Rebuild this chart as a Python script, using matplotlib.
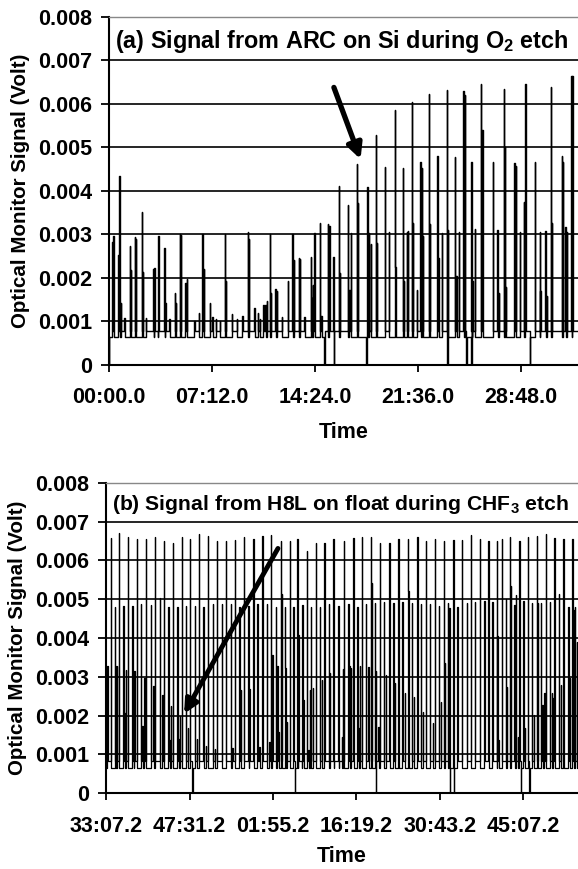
import matplotlib.pyplot as plt
import numpy as np

plt.rcParams['font.family'] = ['Liberation Sans', 'DejaVu Sans']
plt.rcParams['font.weight'] = 'bold'
plt.rcParams['mathtext.fontset'] = 'custom'
plt.rcParams['mathtext.rm'] = 'Liberation Sans:bold'
plt.rcParams['mathtext.it'] = 'Liberation Sans:bold'
plt.rcParams['mathtext.bf'] = 'Liberation Sans:bold'
plt.rcParams['mathtext.default'] = 'regular'

# ---- panel (a): ARC on Si, O2 etch (time in minutes from start, signal in volts)
a_t = [0.23, 0.30, 0.65, 0.72, 0.82, 1.07, 1.47, 1.54, 1.82, 1.89,
       2.29, 2.36, 2.59, 3.10, 3.17, 3.40, 3.45, 3.87, 3.94, 4.21,
       4.61, 4.68, 4.96, 5.03, 5.33, 5.43, 5.96, 6.29, 6.52, 6.62,
       7.06, 7.22, 7.48, 7.76, 8.11, 8.18, 8.58, 8.95, 9.32, 9.70,
       9.79, 10.16, 10.39, 10.56, 10.79, 10.93, 11.02, 11.25, 11.32, 11.62,
       11.72, 12.07, 12.51, 12.81, 12.91, 13.26, 13.33, 13.65, 14.10, 14.19,
       14.24, 14.35, 14.75, 14.84, 15.31, 15.40, 15.68, 16.06, 16.13, 16.71,
       16.80, 16.90, 17.31, 17.38, 18.06, 18.17, 18.29, 18.64, 18.71, 19.29,
       19.55, 19.97, 20.01, 20.53, 20.62, 20.81, 20.90, 21.16, 21.23, 21.51,
       21.76, 21.86, 21.95, 22.35, 22.44, 22.95, 23.02, 23.26, 23.63, 23.70,
       24.19, 24.28, 24.47, 24.79, 24.88, 25.35, 25.42, 25.58, 26.00, 26.12,
       26.84, 27.17, 27.24, 27.59, 27.66, 27.73, 28.33, 28.43, 28.71, 29.01,
       29.10, 29.76, 30.11, 30.15, 30.50, 30.62, 30.90, 30.97, 31.67, 31.74,
       31.92, 32.02, 32.34, 32.41]
a_v = [0.00283, 0.00297, 0.00253, 0.00434, 0.00142, 0.00108, 0.00274, 0.00218, 0.00295, 0.00290,
       0.00351, 0.00214, 0.00108, 0.00220, 0.00222, 0.00163, 0.00297, 0.00270, 0.00143, 0.00105,
       0.00165, 0.00143, 0.00301, 0.00299, 0.00188, 0.00198, 0.00100, 0.00119, 0.00301, 0.00220,
       0.00143, 0.00111, 0.00105, 0.00100, 0.00301, 0.00193, 0.00117, 0.00105, 0.00113, 0.00305,
       0.00290, 0.00130, 0.00119, 0.00105, 0.00138, 0.00138, 0.00146, 0.00301, 0.00165, 0.00174,
       0.00170, 0.00110, 0.00192, 0.00301, 0.00241, 0.00247, 0.00244, 0.00111, 0.00249, 0.00153,
       0.00184, 0.00304, 0.00326, 0.00113, 0.00323, 0.00320, 0.00249, 0.00411, 0.00211, 0.00368,
       0.00172, 0.00303, 0.00461, 0.00372, 0.00410, 0.00303, 0.00277, 0.00529, 0.00281, 0.00454,
       0.00306, 0.00586, 0.00226, 0.00452, 0.00192, 0.00306, 0.00308, 0.00605, 0.00327, 0.00172,
       0.00467, 0.00452, 0.00297, 0.00624, 0.00323, 0.00481, 0.00247, 0.00303, 0.00632, 0.00310,
       0.00479, 0.00205, 0.00306, 0.00630, 0.00621, 0.00466, 0.00192, 0.00312, 0.00646, 0.00540,
       0.00466, 0.00310, 0.00165, 0.00634, 0.00500, 0.00180, 0.00464, 0.00457, 0.00306, 0.00375,
       0.00647, 0.00466, 0.00306, 0.00170, 0.00308, 0.00159, 0.00638, 0.00326, 0.00481, 0.00466,
       0.00318, 0.00306, 0.00665, 0.00665]
a_dip_t = [0.0, 15.05, 15.73, 18.00, 23.66, 25.00, 25.33, 29.43]
a_base = [0.00064, 0.00078]

# ---- panel (b): H8L on float, CHF3 etch
b_tall_t = [0.81, 2.24, 3.74, 5.29, 6.90, 8.45, 10.00, 11.50, 13.06, 14.49, 16.04, 17.54, 19.09,
            20.70, 22.25, 23.80, 25.40, 26.96, 28.46, 30.13, 31.73, 32.99, 34.61, 36.16, 37.65, 39.20, 41.00,
            42.65, 44.10, 45.65, 47.25, 48.86, 50.41, 52.03, 53.69, 55.19, 56.74, 58.29, 59.90, 61.36,
            62.95, 64.50, 65.93, 67.38, 68.24, 69.67, 71.28, 72.73, 74.28, 75.88, 77.31, 78.87, 80.42]
b_tall_v = [0.00657, 0.00670, 0.00661, 0.00654, 0.00654, 0.00661, 0.00651, 0.00646, 0.00659, 0.00654,
            0.00667, 0.00664, 0.00651,
            0.00649, 0.00653, 0.00660, 0.00654, 0.00663, 0.00666, 0.00649, 0.00649, 0.00654, 0.00623,
            0.00644, 0.00644, 0.00654, 0.00649,
            0.00657, 0.00660, 0.00660, 0.00646, 0.00644, 0.00654, 0.00654, 0.00660, 0.00649, 0.00654,
            0.00651, 0.00653, 0.00653,
            0.00666, 0.00654, 0.00651, 0.00651, 0.00654, 0.00660, 0.00651, 0.00660, 0.00663, 0.00667,
            0.00657, 0.00654, 0.00654]
b_mid_t = [1.55, 2.98, 4.54, 6.04, 7.71, 9.31, 10.74, 12.30, 13.80, 15.35, 16.78, 18.40, 19.95,
           21.51, 22.99, 24.54, 26.09, 27.71, 29.32, 30.87, 32.30, 33.85, 35.35, 36.91, 38.46, 40.06,
           41.79, 43.34, 44.84, 46.39, 47.94, 49.55, 51.10, 52.72, 54.32, 55.88, 57.43, 58.93, 60.58,
           62.20, 63.64, 65.24, 66.63, 68.94, 70.43, 71.99, 73.43, 75.02, 76.57, 78.12, 79.73, 80.88]
b_mid_v = [0.00481, 0.00483, 0.00483, 0.00488, 0.00486, 0.00503, 0.00481, 0.00481, 0.00483, 0.00483,
           0.00481, 0.00488, 0.00487,
           0.00488, 0.00481, 0.00483, 0.00488, 0.00488, 0.00481, 0.00481, 0.00481, 0.00486, 0.00481,
           0.00481, 0.00488, 0.00483,
           0.00488, 0.00481, 0.00488, 0.00491, 0.00494, 0.00490, 0.00494, 0.00491, 0.00488, 0.00488,
           0.00483, 0.00490, 0.00481,
           0.00491, 0.00494, 0.00496, 0.00494, 0.00500, 0.00486, 0.00496, 0.00491, 0.00491, 0.00494,
           0.00513, 0.00481, 0.00479]
b_small_t = [0.12, 0.22, 1.67, 1.85, 3.16, 3.40, 4.71, 4.88, 6.26, 6.61,
             8.16, 9.71, 10.92, 11.16, 12.47, 12.76, 14.09, 15.64, 17.25, 18.80,
             21.78, 23.23, 24.71, 26.44, 28.16, 28.68, 29.54, 29.71, 30.30, 30.95,
             31.16, 32.89, 33.16, 33.75, 34.03, 34.89, 35.18, 35.65, 37.20, 38.63,
             39.32, 40.18, 40.65, 40.82, 41.96, 42.20, 43.51, 43.80, 45.24, 45.82,
             46.56, 46.96, 48.29, 49.84, 50.50, 51.57, 52.13, 53.12, 54.62, 56.34,
             57.72, 58.46, 59.21, 67.45, 67.66, 69.10, 69.85, 70.71, 71.00, 72.26,
             73.81, 74.45, 75.24, 75.59, 76.87, 77.14, 78.47, 78.95, 80.02, 80.59,
             81.17]
b_small_v = [0.00198, 0.00327, 0.00328, 0.00327, 0.00206, 0.00318, 0.00206, 0.00314, 0.00174, 0.00296,
             0.00277, 0.00253, 0.00137, 0.00226, 0.00140, 0.00198, 0.00169, 0.00140, 0.00123, 0.00114,
             0.00116, 0.00266, 0.00268, 0.00120, 0.00133, 0.00356, 0.00328, 0.00159, 0.00513, 0.00322,
             0.00184, 0.00215, 0.00408, 0.00245, 0.00240, 0.00112, 0.00266, 0.00270, 0.00292, 0.00309,
             0.00330, 0.00266, 0.00144, 0.00319, 0.00328, 0.00322, 0.00167, 0.00328, 0.00326, 0.00541,
             0.00316, 0.00172, 0.00305, 0.00285, 0.00146, 0.00259, 0.00522, 0.00249, 0.00210, 0.00180,
             0.00236, 0.00335, 0.00477, 0.00404, 0.00137, 0.00275, 0.00534, 0.00511, 0.00146, 0.00167,
             0.00202, 0.00490, 0.00228, 0.00258, 0.00258, 0.00245, 0.00279, 0.00305, 0.00296, 0.00473,
             0.00390]
b_dip_t = [14.88, 32.60, 46.50, 59.33, 59.95, 71.57, 73.00]
b_base = [0.00064, 0.00082]

y_ticks = [0, 0.001, 0.002, 0.003, 0.004, 0.005, 0.006, 0.007, 0.008]
y_labels = ['0', '0.001', '0.002', '0.003', '0.004', '0.005', '0.006', '0.007', '0.008']
a_xticks = [0, 7.2, 14.4, 21.6, 28.8]
a_xlabels = ['00:00.0', '07:12.0', '14:24.0', '21:36.0', '28:48.0']
b_xticks = [0, 14.4, 28.8, 43.2, 57.6, 72.0]
b_xlabels = ['33:07.2', '47:31.2', '01:55.2', '16:19.2', '30:43.2', '45:07.2']


def trace(times, values, base, w, x_end):
    # spikes on a two-level baseline, drawn as steps
    order = np.argsort(times, kind='stable')
    xs, ys = [times[order[0]] - w], [base[0]]
    for k, i in enumerate(order):
        xs += [times[i], times[i] + w]
        ys += [values[i], base[k % 2]]
    xs.append(x_end)
    ys.append(ys[-1])
    return xs, ys


def style_axes(ax, xticks, xlabels, xmax, title, title_size, xlabel_pad):
    ax.set_xlim(0, xmax)
    ax.set_ylim(0, 0.008)
    ax.set_yticks(y_ticks)
    ax.set_yticklabels(y_labels)
    ax.set_xticks(xticks)
    ax.set_xticklabels(xlabels)
    for y in y_ticks[1:-1]:
        ax.axhline(y, color='black', lw=1.2, zorder=3)
    ax.spines['right'].set_visible(False)
    ax.spines['top'].set_color('#888888')
    ax.spines['top'].set_linewidth(1.0)
    ax.spines['left'].set_linewidth(1.5)
    ax.spines['bottom'].set_linewidth(1.5)
    ax.tick_params(axis='x', direction='out', length=5, width=1.3, labelsize=15.5, pad=11)
    ax.tick_params(axis='y', direction='out', length=6, width=1.3, labelsize=15.5, pad=6)
    ax.set_xlabel('Time', fontsize=15.5, fontweight='bold', labelpad=xlabel_pad)
    ax.set_ylabel('Optical Monitor Signal (Volt)', fontsize=14.8, fontweight='bold', labelpad=6)
    ax.text(0.013, 0.968, title, transform=ax.transAxes, va='top', ha='left',
            fontsize=title_size, fontweight='bold', zorder=5)


fig = plt.figure(figsize=(5.78, 8.69), dpi=100)

ax1 = fig.add_axes([0.1886, 0.580, 0.8114, 0.4005])
t1 = a_t + a_dip_t
v1 = a_v + [0.0] * len(a_dip_t)
x1, y1 = trace(np.array(t1), np.array(v1), a_base, 0.03, 33.0)
ax1.plot(x1, y1, drawstyle='steps-post', color='black', lw=1.0, zorder=4)
style_axes(ax1, a_xticks, a_xlabels, 32.8, '(a) Signal from ARC on Si during O$_2$ etch', 16.8, 10)
ax1.annotate('', xy=(17.66, 0.00467), xytext=(15.66, 0.00644),
             arrowprops=dict(arrowstyle='-|>', lw=3.8, color='black', mutation_scale=22), zorder=6)

ax2 = fig.add_axes([0.1834, 0.0871, 0.8166, 0.3574])
t2 = b_tall_t + b_mid_t + b_small_t + b_dip_t
v2 = b_tall_v + b_mid_v + b_small_v + [0.0] * len(b_dip_t)
x2, y2 = trace(np.array(t2), np.array(v2), b_base, 0.08, 82.0)
ax2.plot(x2, y2, drawstyle='steps-post', color='black', lw=0.9, zorder=4)
style_axes(ax2, b_xticks, b_xlabels, 81.4, '(b) Signal from H8L on float during CHF$_3$ etch', 15.2, 7)
ax2.annotate('', xy=(13.23, 0.00199), xytext=(29.89, 0.00637),
             arrowprops=dict(arrowstyle='-|>', lw=3.5, color='black', mutation_scale=20), zorder=6)

fig.savefig('out.png', dpi=100)
